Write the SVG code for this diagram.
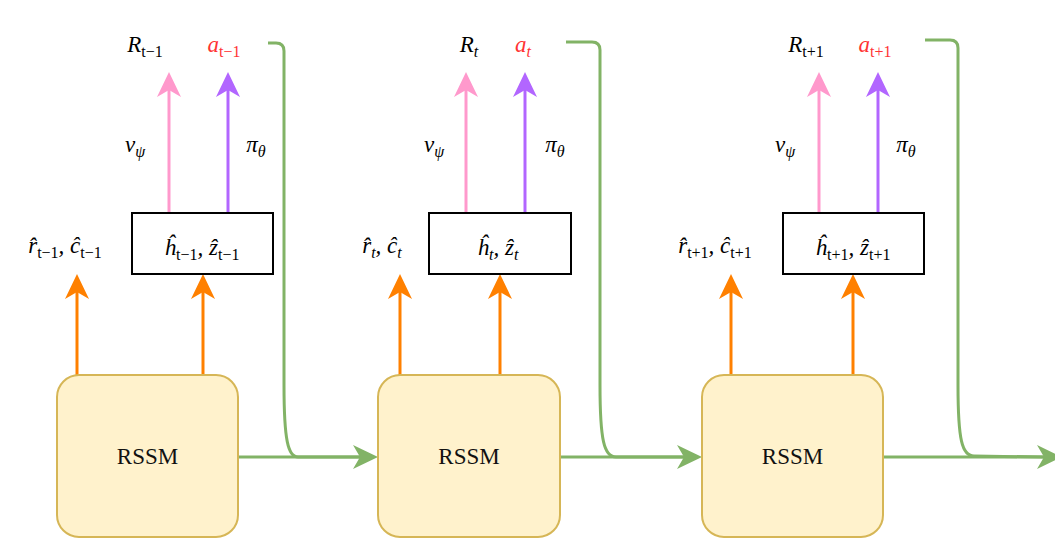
<svg xmlns="http://www.w3.org/2000/svg" width="1055" height="545" viewBox="0 0 1055 545">
  <style>
    .rssm { fill: #fff2cc; stroke: #d6b656; stroke-width: 2; }
    .state { fill: #ffffff; stroke: #000000; stroke-width: 2; }
    .edge { fill: none; stroke-width: 3; }
    .pink { stroke: #ff99cc; }
    .purple { stroke: #b266ff; }
    .orange { stroke: #ff8000; }
    .green { stroke: #82b366; }
  </style>
  <defs>
    <marker id="arr-pink" viewBox="0 0 25 24" refX="7" refY="12" markerWidth="25" markerHeight="24" markerUnits="userSpaceOnUse" orient="auto">
      <path d="M0,0 L25,12 L0,24 L7,12 Z" fill="#ff99cc"/>
    </marker>
    <marker id="arr-purple" viewBox="0 0 25 24" refX="7" refY="12" markerWidth="25" markerHeight="24" markerUnits="userSpaceOnUse" orient="auto">
      <path d="M0,0 L25,12 L0,24 L7,12 Z" fill="#b266ff"/>
    </marker>
    <marker id="arr-orange" viewBox="0 0 25 24" refX="7" refY="12" markerWidth="25" markerHeight="24" markerUnits="userSpaceOnUse" orient="auto">
      <path d="M0,0 L25,12 L0,24 L7,12 Z" fill="#ff8000"/>
    </marker>
    <marker id="arr-green" viewBox="0 0 25 24" refX="7" refY="12" markerWidth="25" markerHeight="24" markerUnits="userSpaceOnUse" orient="auto">
      <path d="M0,0 L25,12 L0,24 L7,12 Z" fill="#82b366"/>
    </marker>
  </defs>

  <!-- connectors -->
  <g id="connectors">
    <!-- RSSM to RSSM -->
    <path class="edge green" d="M238,457 L360,457" marker-end="url(#arr-green)"/>
    <path class="edge green" d="M560,457 L684,457" marker-end="url(#arr-green)"/>
    <path class="edge green" d="M883,457 L1044,457" marker-end="url(#arr-green)"/>
    <!-- actions fed back into the next step -->
    <path class="edge green" d="M268,43 L276,43 Q284,43 284,51 L284,385 C284,440 288,457 298,457 L360,457"/>
    <path class="edge green" d="M566,42 L592,42 Q600,42 600,50 L600,385 C600,440 604,457 616,457 L684,457"/>
    <path class="edge green" d="M925,40 L950,40 Q958,40 958,48 L958,385 C958,440 962,456 974,456 L1044,457"/>

    <!-- decoder outputs -->
    <path class="edge orange" d="M77,375 L77,292" marker-end="url(#arr-orange)"/>
    <path class="edge orange" d="M203,375 L203,292" marker-end="url(#arr-orange)"/>
    <path class="edge orange" d="M400,375 L400,292" marker-end="url(#arr-orange)"/>
    <path class="edge orange" d="M500,375 L500,292" marker-end="url(#arr-orange)"/>
    <path class="edge orange" d="M731,375 L731,292" marker-end="url(#arr-orange)"/>
    <path class="edge orange" d="M853,375 L853,292" marker-end="url(#arr-orange)"/>

    <!-- critic / actor heads -->
    <path class="edge pink" d="M169,213 L169,90" marker-end="url(#arr-pink)"/>
    <path class="edge purple" d="M228,213 L228,90" marker-end="url(#arr-purple)"/>
    <path class="edge pink" d="M466,213 L466,90" marker-end="url(#arr-pink)"/>
    <path class="edge purple" d="M525,213 L525,90" marker-end="url(#arr-purple)"/>
    <path class="edge pink" d="M819,213 L819,90" marker-end="url(#arr-pink)"/>
    <path class="edge purple" d="M878,213 L878,90" marker-end="url(#arr-purple)"/>
  </g>

  <!-- RSSM cells -->
  <g id="rssm-prev">
    <rect class="rssm" x="57" y="375" width="181" height="162" rx="22" ry="22"/>
    <text font-family="Liberation Serif" font-size="23" fill="#111" text-anchor="middle" x="147.5" y="464">RSSM</text>
  </g>
  <g id="rssm-curr">
    <rect class="rssm" x="378" y="375" width="182" height="162" rx="22" ry="22"/>
    <text font-family="Liberation Serif" font-size="23" fill="#111" text-anchor="middle" x="469" y="464">RSSM</text>
  </g>
  <g id="rssm-next">
    <rect class="rssm" x="702" y="375" width="181" height="162" rx="22" ry="22"/>
    <text font-family="Liberation Serif" font-size="23" fill="#111" text-anchor="middle" x="792.5" y="464">RSSM</text>
  </g>

  <!-- all math labels share one font setup -->
  <g font-family="Liberation Serif" font-style="italic" font-size="23" fill="#000" text-anchor="middle">
    <!-- latent states -->
    <g id="state-prev">
      <rect class="state" x="132" y="213" width="141" height="61"/>
      <text x="202" y="255">ĥ<tspan font-size="16" font-style="normal" dy="5">t−1</tspan><tspan dy="-5">, ẑ</tspan><tspan font-size="16" font-style="normal" dy="5">t−1</tspan></text>
    </g>
    <g id="state-curr">
      <rect class="state" x="429" y="213" width="142" height="61"/>
      <text x="498" y="255">ĥ<tspan font-size="16" dy="5">t</tspan><tspan dy="-5">, ẑ</tspan><tspan font-size="16" dy="5">t</tspan></text>
    </g>
    <g id="state-next">
      <rect class="state" x="783" y="213" width="141" height="61"/>
      <text x="853" y="255">ĥ<tspan font-size="16" font-style="normal" dy="5">t+1</tspan><tspan dy="-5">, ẑ</tspan><tspan font-size="16" font-style="normal" dy="5">t+1</tspan></text>
    </g>

    <!-- reward / continue predictions -->
    <g id="pred-prev">
      <text x="65" y="253">r̂<tspan font-size="16" font-style="normal" dy="5">t−1</tspan><tspan dy="-5">, ĉ</tspan><tspan font-size="16" font-style="normal" dy="5">t−1</tspan></text>
    </g>
    <g id="pred-curr">
      <text x="382" y="253">r̂<tspan font-size="16" dy="5">t</tspan><tspan dy="-5">, ĉ</tspan><tspan font-size="16" dy="5">t</tspan></text>
    </g>
    <g id="pred-next">
      <text x="715" y="253">r̂<tspan font-size="16" font-style="normal" dy="5">t+1</tspan><tspan dy="-5">, ĉ</tspan><tspan font-size="16" font-style="normal" dy="5">t+1</tspan></text>
    </g>

    <!-- critic / actor labels -->
    <g id="heads-prev">
      <text x="135" y="152">v<tspan font-size="16" dy="5">ψ</tspan></text>
      <text x="256" y="152">π<tspan font-size="16" dy="5">θ</tspan></text>
    </g>
    <g id="heads-curr">
      <text x="434" y="152">v<tspan font-size="16" dy="5">ψ</tspan></text>
      <text x="555" y="152">π<tspan font-size="16" dy="5">θ</tspan></text>
    </g>
    <g id="heads-next">
      <text x="785" y="152">v<tspan font-size="16" dy="5">ψ</tspan></text>
      <text x="906" y="152">π<tspan font-size="16" dy="5">θ</tspan></text>
    </g>

    <!-- returns and actions -->
    <g id="out-prev">
      <text x="145" y="52">R<tspan font-size="16" font-style="normal" dy="5">t−1</tspan></text>
      <text x="224" y="52" fill="#ff3333">a<tspan font-size="16" font-style="normal" dy="5">t−1</tspan></text>
    </g>
    <g id="out-curr">
      <text x="469" y="52">R<tspan font-size="16" dy="5">t</tspan></text>
      <text x="523" y="52" fill="#ff3333">a<tspan font-size="16" dy="5">t</tspan></text>
    </g>
    <g id="out-next">
      <text x="806" y="52">R<tspan font-size="16" font-style="normal" dy="5">t+1</tspan></text>
      <text x="875" y="52" fill="#ff3333">a<tspan font-size="16" font-style="normal" dy="5">t+1</tspan></text>
    </g>
  </g>
</svg>
